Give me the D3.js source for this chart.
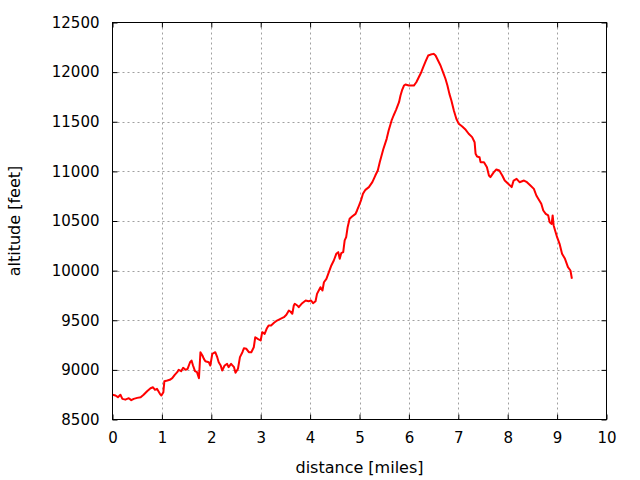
<!DOCTYPE html>
<html><head><meta charset="utf-8">
<script src="https://cdn.jsdelivr.net/npm/d3@7"></script>
<style>
body{margin:0;background:#fff;}
svg{display:block;}
text{font-family:"DejaVu Sans",sans-serif;fill:#000;}
</style></head>
<body><svg id="c" width="640" height="480"></svg>
<script>
const miles = [0,0.06,0.11,0.16,0.2,0.26,0.33,0.38,0.43,0.5,
0.57,0.63,0.7,0.77,0.82,0.86,0.9,0.96,0.99,1.03,
1.05,1.11,1.16,1.21,1.26,1.31,1.34,1.39,1.43,1.48,
1.52,1.57,1.6,1.63,1.67,1.71,1.75,1.78,1.82,1.85,
1.88,1.95,1.98,2.02,2.08,2.12,2.15,2.19,2.22,2.27,
2.32,2.35,2.4,2.46,2.49,2.54,2.58,2.63,2.66,2.71,
2.76,2.81,2.86,2.89,2.94,3.0,3.03,3.08,3.12,3.16,
3.21,3.27,3.33,3.4,3.47,3.52,3.57,3.6,3.64,3.67,
3.69,3.74,3.77,3.84,3.91,3.97,4.02,4.06,4.11,4.14,
4.21,4.25,4.28,4.33,4.38,4.43,4.48,4.53,4.57,4.6,
4.63,4.67,4.7,4.73,4.76,4.8,4.85,4.92,4.95,4.99,
5.03,5.07,5.12,5.19,5.26,5.32,5.37,5.41,5.48,5.55,
5.59,5.65,5.69,5.74,5.8,5.83,5.86,5.9,5.93,6.0,
6.1,6.15,6.2,6.25,6.29,6.34,6.39,6.44,6.5,6.54,
6.59,6.64,6.69,6.74,6.78,6.82,6.86,6.91,6.96,7.01,
7.08,7.15,7.21,7.28,7.33,7.35,7.38,7.43,7.45,7.52,
7.58,7.62,7.65,7.72,7.77,7.83,7.89,7.94,8.01,8.08,
8.12,8.18,8.24,8.33,8.39,8.46,8.53,8.58,8.64,8.68,
8.72,8.77,8.82,8.85,8.89,8.91,8.93,8.97,9.0,9.05,
9.1,9.16,9.22,9.27,9.3];
const altitude = [8749,8742,8725,8749,8708,8700,8715,8695,8708,8718,
8725,8749,8785,8815,8825,8799,8809,8759,8742,8775,
8886,8893,8900,8916,8950,8977,9001,8987,9021,9001,
9011,9077,9094,9044,8987,8977,8915,9178,9145,9111,
9087,9077,9044,9162,9178,9128,9077,9044,8994,9044,
9061,9027,9061,9027,8970,9011,9128,9178,9218,9212,
9178,9178,9228,9329,9313,9296,9380,9363,9414,9447,
9447,9474,9497,9514,9531,9555,9598,9588,9565,9649,
9666,9649,9632,9672,9699,9692,9699,9672,9692,9766,
9833,9800,9883,9917,9984,10052,10102,10169,10186,10119,
10176,10186,10304,10337,10438,10522,10545,10572,10606,10656,
10707,10774,10814,10841,10891,10958,11009,11093,11220,11328,
11412,11513,11563,11620,11697,11764,11815,11865,11875,11865,
11865,11898,11949,11999,12050,12110,12167,12177,12184,12167,
12117,12067,12000,11933,11865,11781,11714,11613,11530,11479,
11452,11419,11379,11345,11294,11177,11150,11143,11093,11093,
11042,10958,10942,10992,11019,11009,10958,10908,10875,10841,
10908,10925,10891,10908,10891,10858,10824,10757,10707,10673,
10606,10572,10556,10488,10471,10556,10455,10387,10337,10270,
10170,10119,10035,10001,9918];
const xTicks = [0,1,2,3,4,5,6,7,8,9,10];
const yTicks = [8500,9000,9500,10000,10500,11000,11500,12000,12500];
const xLabel = "distance [miles]";
const yLabel = "altitude [feet]";

const L=112.5, R=606.5, T=22.5, B=419.5;
const svg = d3.select("#c");
const x = d3.scaleLinear().domain([0,10]).range([L,R]);
const y = d3.scaleLinear().domain([8500,12500]).range([B,T]);

// grid
const grid = svg.append("g").attr("stroke","#a0a0a0").attr("stroke-width",1).attr("stroke-dasharray","2,3");
grid.selectAll(".gx").data(xTicks.slice(1,-1)).join("line")
  .attr("x1",d=>Math.round(x(d))+0.5).attr("x2",d=>Math.round(x(d))+0.5).attr("y1",T).attr("y2",B);
grid.selectAll(".gy").data(yTicks.slice(1,-1)).join("line")
  .attr("y1",d=>Math.round(y(d))+0.5).attr("y2",d=>Math.round(y(d))+0.5).attr("x1",L).attr("x2",R);

// axes
const fs = 15;
const ax = svg.append("g").attr("transform",`translate(0,${B})`)
  .call(d3.axisBottom(x).tickValues(xTicks).tickFormat(d3.format("d")).tickSize(-5).tickPadding(13));
const ay = svg.append("g").attr("transform",`translate(${L},0)`)
  .call(d3.axisLeft(y).tickValues(yTicks).tickFormat(d3.format("d")).tickSize(-5).tickPadding(13));
const axT = svg.append("g").attr("transform",`translate(0,${T})`)
  .call(d3.axisTop(x).tickValues(xTicks).tickFormat("").tickSize(-5));
const ayR = svg.append("g").attr("transform",`translate(${R},0)`)
  .call(d3.axisRight(y).tickValues(yTicks).tickFormat("").tickSize(-5));
[ax,ay,axT,ayR].forEach(g=>{
  g.select(".domain").remove();
  g.selectAll("line").attr("stroke","#000");
  g.selectAll("text").attr("font-family","DejaVu Sans").attr("font-size",fs).attr("fill","#000");
});

// line
const line = d3.line().x(d=>x(d[0])).y(d=>y(d[1]));
svg.append("path").datum(d3.zip(miles,altitude))
  .attr("fill","none").attr("stroke","#ff0000").attr("stroke-width",2)
  .attr("stroke-linejoin","round").attr("d",line);

// frame
svg.append("rect").attr("x",L).attr("y",T).attr("width",R-L).attr("height",B-T)
  .attr("fill","none").attr("stroke","#000").attr("stroke-width",1);

// labels
svg.append("text").attr("x",(L+R)/2).attr("y",467).attr("text-anchor","middle")
  .attr("dominant-baseline","central").attr("font-size",16).text(xLabel);
svg.append("text").attr("transform",`translate(14,${(T+B)/2}) rotate(-90)`).attr("text-anchor","middle")
  .attr("dominant-baseline","central").attr("font-size",16).text(yLabel);
</script></body></html>
